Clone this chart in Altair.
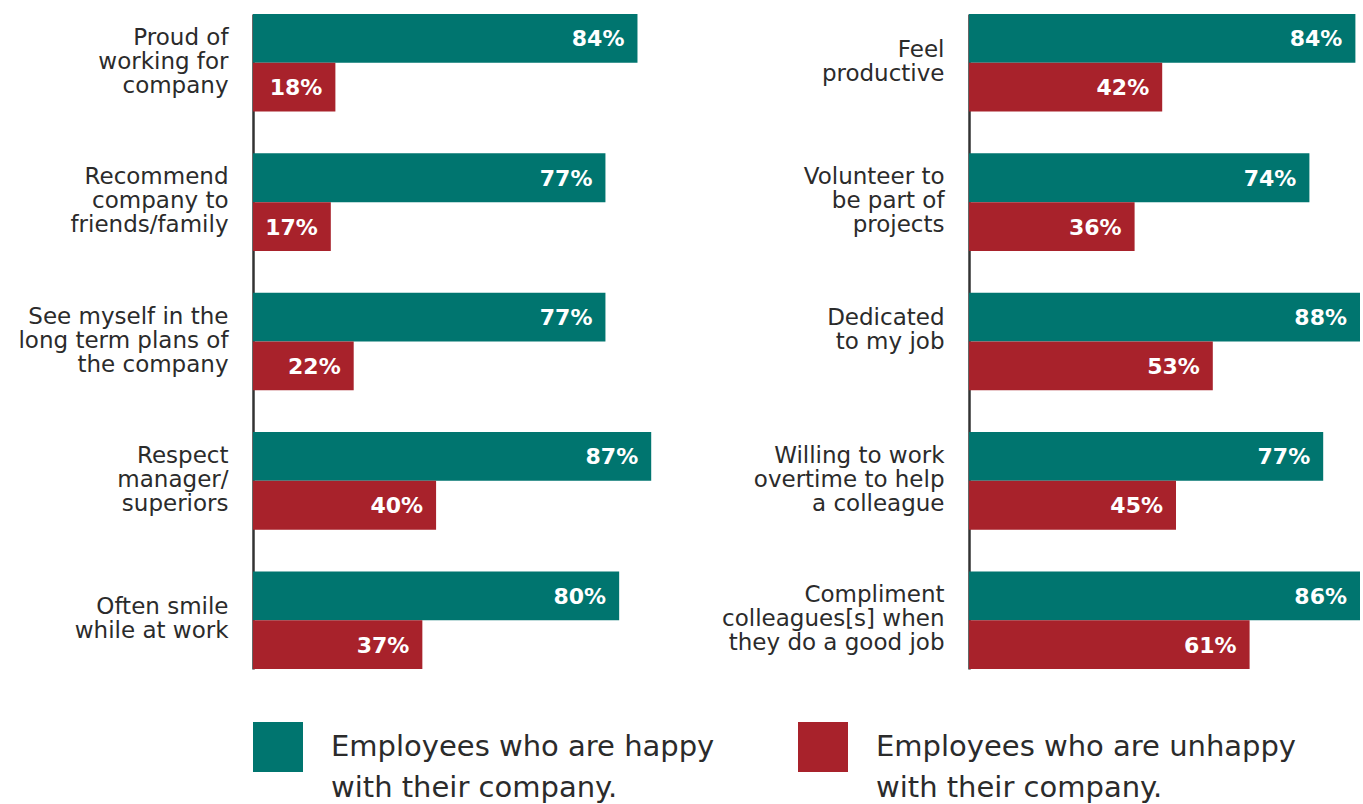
import altair as alt
import pandas as pd

# ---- data -------------------------------------------------------------
left_categories = [
    "Proud of\nworking for\ncompany",
    "Recommend\ncompany to\nfriends/family",
    "See myself in the\nlong term plans of\nthe company",
    "Respect\nmanager/\nsuperiors",
    "Often smile\nwhile at work",
]
left_happy = [84, 77, 77, 87, 80]
left_unhappy = [18, 17, 22, 40, 37]

right_categories = [
    "Feel\nproductive",
    "Volunteer to\nbe part of\nprojects",
    "Dedicated\nto my job",
    "Willing to work\novertime to help\na colleague",
    "Compliment\ncolleagues[s] when\nthey do a good job",
]
right_happy = [84, 74, 88, 77, 86]
right_unhappy = [42, 36, 53, 45, 61]

groups = [
    "Employees who are happy\nwith their company.",
    "Employees who are unhappy\nwith their company.",
]
colors = ["#00756F", "#A8222B"]

FONT = "DejaVu Sans"
TEXT_COLOR = "#2b2b2b"


def frame(categories, happy, unhappy):
    rows = []
    for c, h, u in zip(categories, happy, unhappy):
        rows.append({"category": c, "group": groups[0], "value": h})
        rows.append({"category": c, "group": groups[1], "value": u})
    return pd.DataFrame(rows)


legend = alt.Legend(
    title=None,
    orient="none",
    legendX=0,
    legendY=708,
    direction="horizontal",
    symbolType="square",
    symbolSize=2500,
    symbolStrokeWidth=0,
    symbolOpacity=1,
    labelFont=FONT,
    labelFontSize=29,
    labelColor=TEXT_COLOR,
    labelOffset=28,
    labelLimit=800,
    labelBaseline="middle",
    labelExpr="split(datum.label, '\\n')",
    columnPadding=83,
    padding=0,
)

# vertical centring of the multi-line category labels
label_offset = {
    "condition": [
        {"test": "length(split(datum.value, '\\n')) >= 3", "value": -25},
        {"test": "indexof(datum.value, 'Dedicated') == 0", "value": -24},
    ],
    "value": -13,
}


def panel(categories, happy, unhappy, width, xmax):
    df = frame(categories, happy, unhappy)
    y = alt.Y(
        "category:N",
        sort=categories,
        scale=alt.Scale(paddingInner=0.3, paddingOuter=0),
        axis=alt.Axis(
            title=None,
            ticks=False,
            domain=True,
            domainColor="#333333",
            domainWidth=2.5,
            labelFont=FONT,
            labelFontSize=23,
            labelColor=TEXT_COLOR,
            labelPadding=25,
            labelLineHeight=24,
            labelLimit=400,
            labelAlign="right",
            labelBaseline="middle",
            labelOffset=label_offset,
            labelExpr="split(datum.value, '\\n')",
            grid=False,
        ),
    )
    yoff = alt.YOffset(
        "group:N", sort=groups, scale=alt.Scale(paddingInner=0, paddingOuter=0)
    )
    x = alt.X(
        "value:Q",
        scale=alt.Scale(domain=[0, xmax], clamp=True, nice=False, zero=True),
        axis=None,
    )
    bars = alt.Chart(df).mark_bar(cornerRadius=0).encode(
        x=x,
        y=y,
        yOffset=yoff,
        color=alt.Color(
            "group:N", scale=alt.Scale(domain=groups, range=colors), legend=legend
        ),
    )
    labels = alt.Chart(df).transform_calculate(
        label="datum.value + '%'"
    ).mark_text(
        align="right",
        baseline="middle",
        dx=-13,
        dy=1,
        font=FONT,
        fontSize=22,
        fontWeight="bold",
        color="white",
    ).encode(
        x=x,
        y=y,
        yOffset=yoff,
        text="label:N",
    )
    return alt.layer(bars, labels).properties(width=width, height=655)


left = panel(left_categories, left_happy, left_unhappy, 460, 100.5)
right = panel(right_categories, right_happy, right_unhappy, 391, 85)

chart = (
    alt.hconcat(left, right, spacing=256, bounds="flush")
    .resolve_scale(x="independent", y="independent", yOffset="independent", color="shared")
    .properties(
        padding={"left": 17, "top": 14, "right": 0, "bottom": 0},
    )
    .configure(font=FONT, style={"guide-label": {"lineHeight": 41}})
    .configure_view(stroke=None)
)

chart.save("out.html", embed_options={"renderer": "svg", "actions": False})
